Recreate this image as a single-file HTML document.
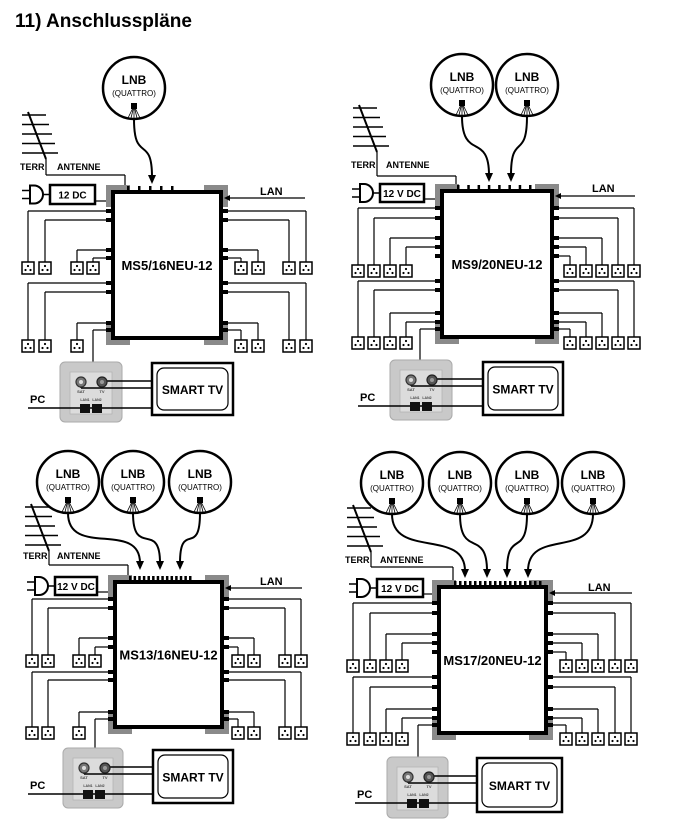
<!DOCTYPE html>
<html><head><meta charset="utf-8">
<style>
html,body{margin:0;padding:0;background:#fff;}
svg{display:block;}
text{font-family:"Liberation Sans",Arial,sans-serif;font-weight:bold;fill:#000;}
</style></head>
<body>
<svg id="s" width="680" height="836" viewBox="0 0 680 836" xmlns="http://www.w3.org/2000/svg">
<text x="15" y="27" font-size="19" textLength="177" lengthAdjust="spacingAndGlyphs">11) Anschlusspläne</text>
</svg>
<script>
var D=[
{lnbs:[[134,88]],tips:[[152,184]],ant:[22,115,170,57,175,125],box:[113,192,221,338],dc:[50,185,45,19,"12 DC"],lan:[260,195,198,305],label:"MS5/16NEU-12",
 L:[[[211,28],[220,45],[250,77],[258,93]],262,[[283,28],[292,45],[323,77]],340,[330,93]],
 R:[[[211,306],[220,289],[250,258],[258,241]],262,[[283,306],[292,289],[323,258],[330,241]],340],stubL:[],ticks:[128,172,5],
 out:[60,362,62,60],tv:[152,363,81,52],pc:28},
{lnbs:[[462,85],[527,85]],tips:[[489,182],[511,182]],ant:[353,108,168,386,176,456],box:[442,191,552,337],dc:[380,184,44,18,"12 V DC"],lan:[592,192,196,635],label:"MS9/20NEU-12",
 L:[[[208,358],[218,374],[238,390],[247,406]],265,[[281,358],[290,374],[313,390],[322,406]],337,[329,420]],
 R:[[[208,634],[218,618],[238,602],[247,586],[256,570]],265,[[281,634],[290,618],[313,602],[322,586],[329,570]],337],stubL:[256],ticks:[458,530,8],
 out:[390,360,62,60],tv:[483,362,80,53],pc:358},
{lnbs:[[68,482],[133,482],[200,482]],tips:[[140,570],[160,570],[180,570]],ant:[25,507,559,57,565,128],box:[115,582,222,727],dc:[55,577,42,18,"12 V DC"],lan:[260,585,588,302],label:"MS13/16NEU-12",
 L:[[[599,32],[608,48],[638,79],[647,95]],655,[[672,32],[680,48],[712,79]],727,[719,95]],
 R:[[[599,301],[608,285],[638,254],[647,238]],655,[[672,301],[680,285],[712,254],[719,238]],727],stubL:[],ticks:[130,190,14],
 out:[63,748,60,60],tv:[153,750,80,53],pc:28},
{lnbs:[[392,483],[460,483],[527,483],[593,483]],tips:[[465,578],[487,578],[507,578],[528,578]],ant:[347,508,563,380,567,453],box:[439,587,546,733],dc:[377,579,46,18,"12 V DC"],lan:[588,591,593,632],label:"MS17/20NEU-12",
 L:[[[603,353],[613,370],[634,386],[643,402]],660,[[677,353],[687,370],[709,386],[718,402]],733,[725,418]],
 R:[[[603,631],[613,615],[634,598],[643,582],[652,566]],660,[[677,631],[687,615],[709,598],[718,582],[725,566]],733],stubL:[652],ticks:[455,540,18],
 out:[387,757,61,61],tv:[477,758,85,54],pc:355}
];
var h='';
function ln(a,b,c,d,w){h+='<line x1="'+a+'" y1="'+b+'" x2="'+c+'" y2="'+d+'" stroke="#000" stroke-width="'+(w||1.5)+'"/>';}
function rc(x,y,w,hh,f,s,sw,rx){h+='<rect x="'+x+'" y="'+y+'" width="'+w+'" height="'+hh+'" fill="'+f+'" stroke="'+(s||'none')+'" stroke-width="'+(sw||0)+'"'+(rx?' rx="'+rx+'"':'')+'/>';}
function tx(x,y,s,t,a){h+='<text x="'+x+'" y="'+y+'" font-size="'+s+'"'+(a?' text-anchor="middle"':'')+'>'+t+'</text>';}
function sock(cx,y){rc(cx-6,y,12,12,'#fff','#000',1.5);h+='<circle cx="'+cx+'" cy="'+(y+4)+'" r="1.1"/><circle cx="'+(cx-2.5)+'" cy="'+(y+8)+'" r="1.1"/><circle cx="'+(cx+2.5)+'" cy="'+(y+8)+'" r="1.1"/>';}
D.forEach(function(d){
 var b=d.box,x1=b[0],y1=b[1],x2=b[2],y2=b[3];
 var a=d.ant,L=a[0],T=a[1];
 for(var i=0;i<5;i++){ln(L,T+i*9.5,L+24+i*3,T+i*9.5,1.5);}
 ln(L+6,T-3,L+24,T+44,2);
 ln(L+24,T+44,L+24,a[4],1.2);ln(L+24,a[4],a[5],a[4],1.2);ln(a[5],a[4],a[5],y1-4,1.2);
 tx(L-2,a[2],9,'TERR');tx(a[3],a[2],9,'ANTENNE');
 var g='#8a8a8a';
 rc(x1-7,y1-7,24,22,g);rc(x2-17,y1-7,24,22,g);rc(x1-7,y2-15,24,22,g);rc(x2-17,y2-15,24,22,g);
 var t=d.ticks;for(var i=0;i<t[2];i++){var xx=t[0]+(t[1]-t[0])*i/(t[2]-1);rc(xx-1,y1-6,2.5,6,'#000');}
 rc(x1,y1,x2-x1,y2-y1,'#fff','#000',4);
 tx((x1+x2)/2,(y1+y2)/2+5,13,d.label,1);
 d.lnbs.forEach(function(l,k){var cx=l[0],cy=l[1],r=31,tp=d.tips[k];
  h+='<circle cx="'+cx+'" cy="'+cy+'" r="'+r+'" fill="#fff" stroke="#000" stroke-width="2.5"/>';
  tx(cx,cy-4,12,'LNB',1);h+='<text x="'+cx+'" y="'+(cy+8)+'" font-size="8" text-anchor="middle" style="font-weight:normal">(QUATTRO)</text>';
  rc(cx-3,cy+15,6,6,'#000');
  for(var j=-2;j<=2;j++)ln(cx+j*0.8,cy+21,cx+j*3,cy+r-1,0.8);
  h+='<path d="M'+cx+' '+(cy+r)+' C'+cx+' '+(cy+r+45)+' '+tp[0]+' '+(tp[1]-50)+' '+tp[0]+' '+(tp[1]-7)+'" fill="none" stroke="#000" stroke-width="2"/>';
  h+='<path d="M'+(tp[0]-4)+' '+(tp[1]-9)+' L'+(tp[0]+4)+' '+(tp[1]-9)+' L'+tp[0]+' '+tp[1]+' Z"/>';
 });
 var c=d.dc;rc(c[0],c[1],c[2],c[3],'#fff','#000',2.5);tx(c[0]+c[2]/2,c[1]+c[3]/2+4,10,c[4],1);
 var py=c[1]+c[3]/2,px=c[0]-28;
 h+='<path d="M'+(px+8)+' '+(py-9)+' L'+(px+12)+' '+(py-9)+' A9 9 0 0 1 '+(px+12)+' '+(py+9)+' L'+(px+8)+' '+(py+9)+' Z" fill="#fff" stroke="#000" stroke-width="2"/>';
 ln(px,py-4,px+8,py-4,1.5);ln(px,py+4,px+8,py+4,1.5);ln(px+21,py,c[0],py,1.5);
 ln(c[0]+c[2],c[1]+c[3]-3,x1-7,c[1]+c[3]-3,1.2);
 var n=d.lan;tx(n[0],n[1],11,'LAN');ln(n[3],n[2],x2+8,n[2],1.2);
 h+='<path d="M'+(x2+3)+' '+n[2]+' L'+(x2+9)+' '+(n[2]-3)+' L'+(x2+9)+' '+(n[2]+3)+' Z"/>';
 function side(arr,row,left){arr.forEach(function(p){var y=p[0],xe=p[1];
   if(left){rc(x1-7,y-2,7,4,'#000');ln(x1-7,y,xe,y,1.2);}else{rc(x2,y-2,7,4,'#000');ln(x2+7,y,xe,y,1.2);}
   ln(xe,y,xe,row,1.2);sock(xe,row);});}
 side(d.L[0],d.L[1],1);side(d.L[2],d.L[3],1);side(d.R[0],d.R[1],0);side(d.R[2],d.R[3],0);
 d.stubL.forEach(function(y){rc(x1-7,y-2,7,4,'#000');});
 var o=d.out,op=d.L[4];rc(x1-7,op[0]-2,7,4,'#000');ln(x1-7,op[0],op[1],op[0],1.2);ln(op[1],op[0],op[1],o[1],1.2);
 var v=d.tv;rc(v[0],v[1],v[2],v[3],'#fff','#000',2.5);rc(v[0]+5,v[1]+5,v[2]-10,v[3]-10,'#fff','#000',1.2,7);
 tx(v[0]+v[2]/2,v[1]+v[3]/2+5,12,'SMART TV',1);
 rc(o[0],o[1],o[2],o[3],'#c9c9c9','#aaa',1,5);rc(o[0]+10,o[1]+10,o[2]-20,o[3]-18,'#dcdcdc','#b5b5b5',0.8);
 var sx=o[0]+21,tvx=o[0]+42,cy=o[1]+20;
 ln(tvx,cy-1,v[0],cy-1,1.5);ln(sx,cy,sx,cy+6,1.5);ln(sx,cy+6,v[0],cy+6,1.5);
 h+='<circle cx="'+sx+'" cy="'+cy+'" r="5" fill="#777" stroke="#333" stroke-width="1.2"/><circle cx="'+sx+'" cy="'+cy+'" r="2" fill="#ddd"/>';
 h+='<circle cx="'+tvx+'" cy="'+cy+'" r="5" fill="#555" stroke="#222" stroke-width="1.2"/><circle cx="'+tvx+'" cy="'+cy+'" r="2" fill="#999"/>';
 h+='<text x="'+sx+'" y="'+(cy+11)+'" font-size="4" text-anchor="middle" style="fill:#444">SAT</text><text x="'+tvx+'" y="'+(cy+11)+'" font-size="4" text-anchor="middle" style="fill:#444">TV</text>';
 h+='<text x="'+(o[0]+25)+'" y="'+(o[1]+39)+'" font-size="3.5" text-anchor="middle" style="fill:#444">LAN1</text><text x="'+(o[0]+37)+'" y="'+(o[1]+39)+'" font-size="3.5" text-anchor="middle" style="fill:#444">LAN2</text>';
 ln(d.pc,o[1]+46,v[0],o[1]+46,1.5);
 rc(o[0]+20,o[1]+42,10,9,'#111');rc(o[0]+32,o[1]+42,10,9,'#111');
 tx(d.pc+2,o[1]+41,11,'PC');
});
document.getElementById('s').insertAdjacentHTML('beforeend',h);
</script>
</body></html>
